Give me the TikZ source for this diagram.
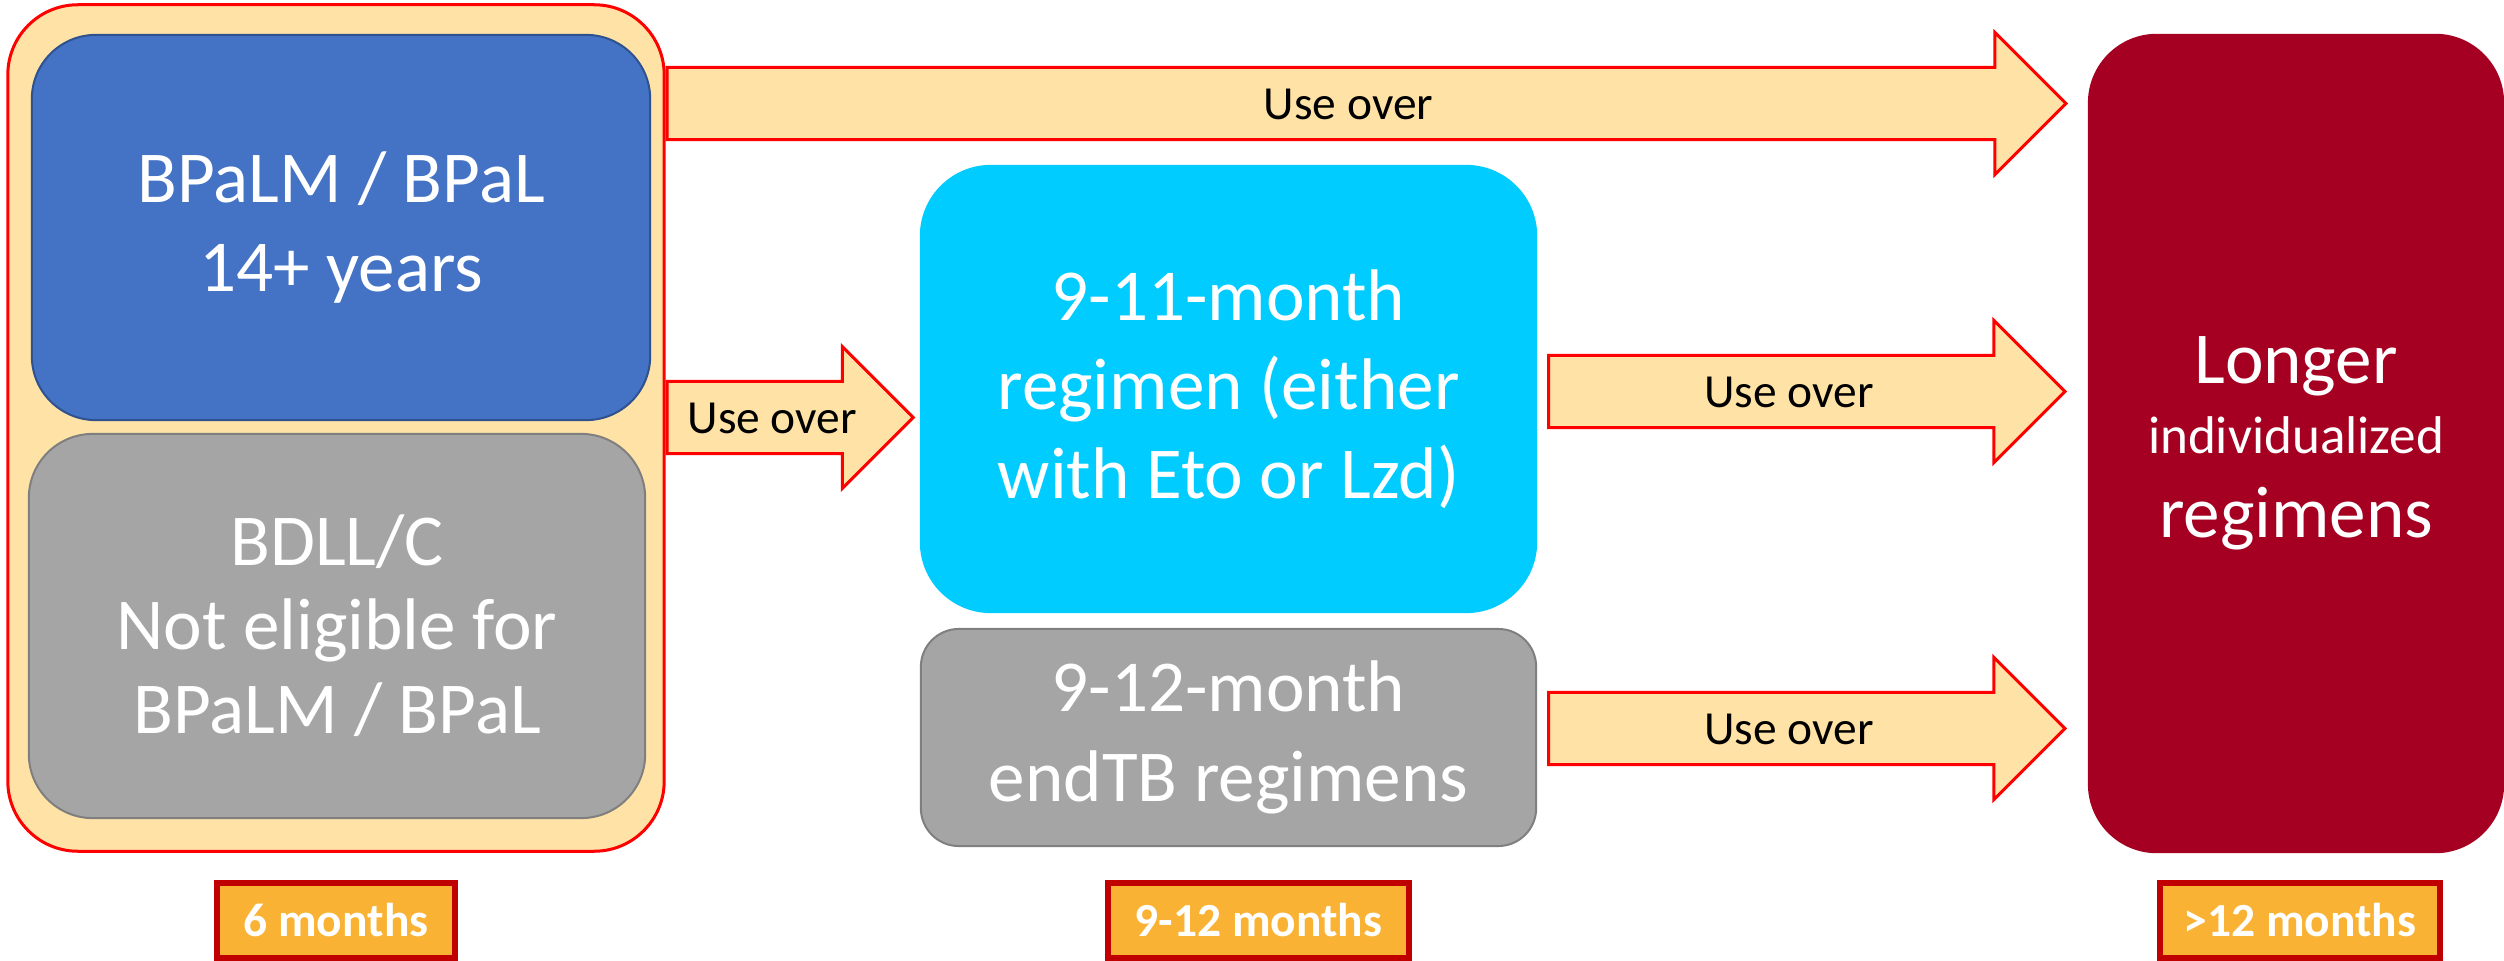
\documentclass[tikz,border=0pt]{standalone}
\usepackage{fontspec}
\setmainfont{Carlito}
\usepackage{tikz}
\usetikzlibrary{shapes.arrows,positioning,calc}
\definecolor{panel}{HTML}{FFE2A6}
\definecolor{arrowred}{HTML}{FF0000}
\definecolor{bpblue}{HTML}{4472C4}
\definecolor{bpblueline}{HTML}{2F528F}
\definecolor{midgray}{HTML}{A5A5A5}
\definecolor{grayline}{HTML}{7F7F7F}
\definecolor{skyblue}{HTML}{00CCFF}
\definecolor{longred}{HTML}{A50021}
\definecolor{tagfill}{HTML}{F9B233}
\definecolor{tagred}{HTML}{C00000}
\tikzset{
    regbox/.style={rounded corners=0.64cm, text=white, align=center, inner sep=0pt,
        line width=0.02cm, font=\fontsize{20.8}{25.4}\selectfont},
    usearrow/.style={single arrow, draw=arrowred, fill=panel, line width=0.03cm,
        single arrow head extend=0.35cm, single arrow tip angle=90,
        inner xsep=0pt, inner ysep=0pt, text height=0.5cm, text depth=0.19cm,
        anchor=tail, font=\fontsize{13.5}{16}\selectfont},
    monthtag/.style={draw=tagred, fill=tagfill, line width=0.06cm, text=white,
        inner sep=0pt, minimum height=0.75cm, font=\bfseries\fontsize{13.5}{16}\selectfont}
}

\begin{document}
\begin{tikzpicture}[x=0.01cm, y=-0.01cm]
    \useasboundingbox (0,0) rectangle (2504,961);
    % 6-month group
    \node[draw=arrowred, fill=panel, line width=0.03cm, rounded corners=0.7cm,
        minimum width=6.56cm, minimum height=8.46cm] (cont) at (336,428) {};
    % connectors
    \node[usearrow, minimum height=13.98cm] (a1) at (cont.east |- 0,103.5) {Use over};
    \node[usearrow, minimum height=2.46cm] (a2) at (cont.east |- 0,417.5) {Use over};
    % regimens
    \node[regbox, fill=bpblue, draw=bpblueline, minimum width=6.18cm, minimum height=3.85cm]
        (bpal) at (341,227.5) {BPaLM / BPaL\\14+ years};
    \node[regbox, fill=midgray, draw=grayline, minimum width=6.16cm, minimum height=3.84cm,
        font=\fontsize{20.8}{23.9}\selectfont] (bdll) at (337,626) {BDLL/C\\Not eligible for\\BPaLM / BPaL};
    \node[regbox, fill=skyblue, draw=skyblue, rounded corners=0.7cm, minimum width=6.15cm,
        minimum height=4.46cm] (nine) at (1228.5,389) {9-11-month\\regimen (either\\with Eto or Lzd)};
    \node[regbox, fill=midgray, draw=grayline, rounded corners=0.38cm, minimum width=6.15cm,
        minimum height=2.17cm] (endtb) at (1228.5,737.5) {9-12-month\\endTB regimens};
    \node[regbox, fill=longred, draw=longred, rounded corners=0.68cm, minimum width=4.14cm,
        minimum height=8.17cm] (long) at (2296,443.5)
        {Longer\\[-5.5pt]{\fontsize{15.1}{18}\selectfont individualized}\\[-1.5pt]regimens};
    \node[usearrow, minimum height=5.16cm] (a3) at ([xshift=0.1cm]nine.east |- 0,391.5) {Use over};
    \node[usearrow, minimum height=5.16cm] (a4) at ([xshift=0.1cm]endtb.east |- 0,728.5) {Use over};
    % durations
    \node[monthtag, minimum width=2.38cm] (t6) at (336,920.5) {6 months};
    \node[monthtag, minimum width=3.01cm] (t9) at (1258.5,920.5) {9-12 months};
    \node[monthtag, minimum width=2.80cm] (t12) at (2300,920.5) {>12 months};
\end{tikzpicture}
\end{document}
